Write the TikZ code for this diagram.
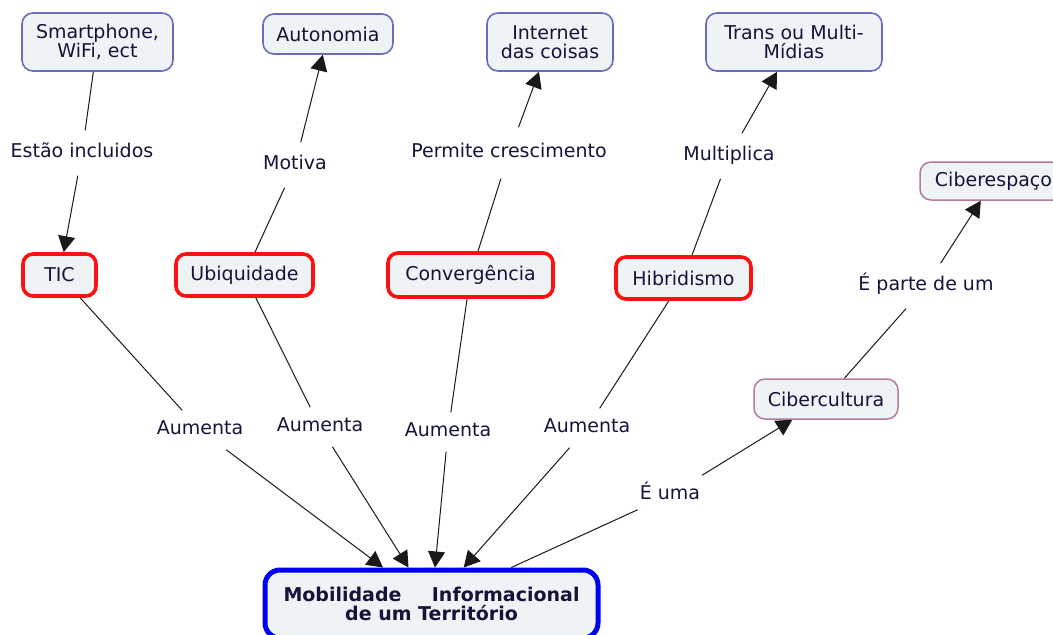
\documentclass[tikz,border=0pt]{standalone}
\usepackage{fontspec}
\setmainfont{DejaVu Sans}
\usetikzlibrary{arrows.meta}
\definecolor{boxfill}{HTML}{EEF3F6}
\definecolor{topbd}{HTML}{6B6BBF}
\definecolor{redbd}{HTML}{FF1010}
\definecolor{mauvebd}{HTML}{B57A9C}
\definecolor{bluebd}{HTML}{0000F0}
\definecolor{txt}{HTML}{14143A}
\tikzset{
  concept/.style={draw, fill=boxfill, text=txt, rounded corners=11pt, align=center,
    inner sep=0pt, font=\fontsize{19}{19.5}\selectfont},
  topbox/.style={concept, draw=topbd, line width=1.6pt},
  redbox/.style={concept, draw=redbd, line width=3.6pt, rounded corners=10pt},
  mauvebox/.style={concept, draw=mauvebd, line width=1.5pt},
  bluebox/.style={concept, draw=bluebd, line width=5pt, rounded corners=15pt},
  lab/.style={text=txt, font=\fontsize{19}{19}\selectfont, inner xsep=2pt, inner ysep=14pt,
    text height=13pt, text depth=4pt},
  labs/.style={lab, inner ysep=11pt},
  conn/.style={draw=black!90, line width=1pt},
  arr/.style={conn, -{Triangle[length=16pt,width=17pt]}},
}
\begin{document}
\begin{tikzpicture}[x=1pt,y=-1pt]
\useasboundingbox (0,0) rectangle (1053,635);
% concept nodes
\node[topbox, minimum width=151pt, minimum height=58pt] (smart) at (97.5,42) {Smartphone,\\WiFi, ect};
\node[topbox, minimum width=130pt, minimum height=40pt] (auto) at (328,34) {Autonomia};
\node[topbox, minimum width=126pt, minimum height=58pt] (iot) at (550,42) {Internet\\das coisas};
\node[topbox, minimum width=176pt, minimum height=58pt] (trans) at (794,42) {Trans ou Multi-\\Mídias};
\node[mauvebox, minimum width=147pt, minimum height=38pt] (ciberesp) at (993.5,181) {Ciberespaço};
\node[redbox, minimum width=73pt, minimum height=42pt] (tic) at (59.5,275) {TIC};
\node[redbox, minimum width=137pt, minimum height=42pt] (ubiq) at (244.5,275) {Ubiquidade};
\node[redbox, minimum width=165pt, minimum height=44pt] (conv) at (470.5,275) {Convergência};
\node[redbox, minimum width=135pt, minimum height=42pt] (hibr) at (683.5,278) {Hibridismo};
\node[mauvebox, minimum width=144pt, minimum height=40pt] (cibercult) at (826,399) {Cibercultura};
\node[bluebox, minimum width=333pt, minimum height=68pt, font=\fontsize{19}{19}\selectfont\bfseries] (mob) at (431.5,604)
  {\makebox[296pt]{Mobilidade\hfill Informacional}\\de um Território};
% linking phrases
\node[lab] (l1) at (82,153) {Estão incluidos};
\node[lab] (l2) at (295,165) {Motiva};
\node[lab, inner ysep=17pt] (l3) at (509,153) {Permite crescimento};
\node[lab] (l4) at (729,156) {Multiplica};
\node[lab] (l5) at (926,286) {É parte de um};
\node[labs] (a1) at (200,430) {Aumenta};
\node[labs] (a2) at (320,427) {Aumenta};
\node[labs] (a3) at (448,432) {Aumenta};
\node[labs] (a4) at (587,428) {Aumenta};
\node[labs] (l6) at (670,495) {É uma};
% connectors
\draw[conn] (smart) -- (l1);
\draw[arr] (l1) -- (tic);
\draw[conn] (ubiq) -- (l2);
\draw[arr] (l2) -- (auto);
\draw[conn] (conv) -- (l3);
\draw[arr] (l3) -- (iot);
\draw[conn] (hibr) -- (l4);
\draw[arr] (l4) -- (trans);
\draw[conn] (cibercult) -- (l5);
\draw[arr] (l5) -- (ciberesp);
\draw[conn] (tic) -- (a1);
\draw[arr] (a1) -- (mob);
\draw[conn] (ubiq) -- (a2);
\draw[arr] (a2) -- (mob);
\draw[conn] (conv) -- (a3);
\draw[arr] (a3) -- (mob);
\draw[conn] (hibr) -- (a4);
\draw[arr] (a4) -- (mob);
\draw[conn] (mob) -- (l6);
\draw[arr] (l6) -- (cibercult);
\end{tikzpicture}
\end{document}
